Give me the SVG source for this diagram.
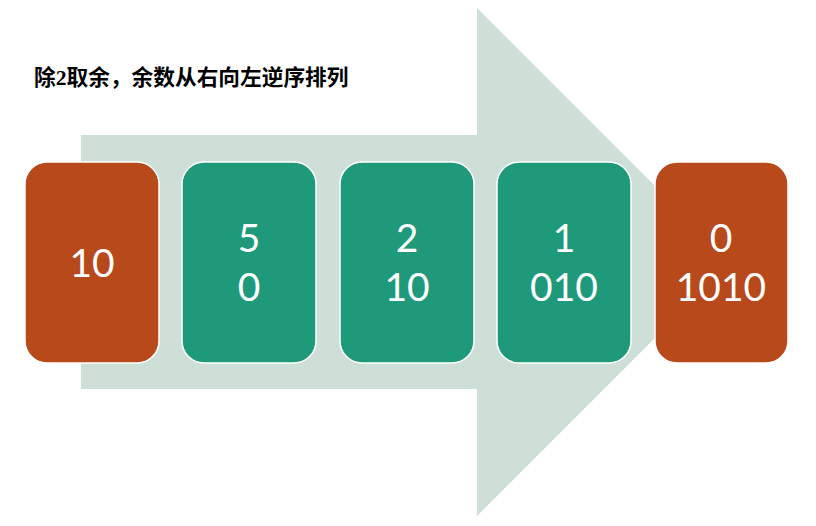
<svg xmlns="http://www.w3.org/2000/svg" width="816" height="526" viewBox="0 0 816 526">
  <style>
    .card { stroke: #ffffff; stroke-width: 1.5; }
    .orange { fill: #B7491A; }
    .green { fill: #1E9A7A; }
    .num { fill: #ffffff; font-family: Lato, "Open Sans", sans-serif; font-size: 39px; text-anchor: middle; }
    .title { fill: #000000; font-family: "Liberation Serif", "Noto Sans CJK SC", serif; font-weight: bold; font-size: 21.7px; }
  </style>
  <rect width="816" height="526" fill="#ffffff"/>

  <text class="title" x="34" y="85">除2取余，余数从右向左逆序排列</text>

  <!-- background flow arrow -->
  <g id="connectors">
    <polygon points="81,135 477,135 477,8 731,262 477,516 477,389 81,389" fill="#CEDFD7"/>
  </g>

  <g id="n10">
    <rect class="card orange" x="25" y="162" width="134" height="201" rx="22"/>
    <text class="num" x="92" y="277">10</text>
  </g>
  <g id="n5">
    <rect class="card green" x="182" y="162" width="134" height="201" rx="22"/>
    <text class="num" x="249" y="252">5</text>
    <text class="num" x="249" y="301">0</text>
  </g>
  <g id="n2">
    <rect class="card green" x="340" y="162" width="134" height="201" rx="22"/>
    <text class="num" x="407" y="252">2</text>
    <text class="num" x="407" y="301">10</text>
  </g>
  <g id="n1">
    <rect class="card green" x="497" y="162" width="134" height="201" rx="22"/>
    <text class="num" x="564" y="252">1</text>
    <text class="num" x="564" y="301">010</text>
  </g>
  <g id="n0">
    <rect class="card orange" x="655" y="162" width="133" height="201" rx="22"/>
    <text class="num" x="721" y="252">0</text>
    <text class="num" x="721" y="301">1010</text>
  </g>
</svg>
